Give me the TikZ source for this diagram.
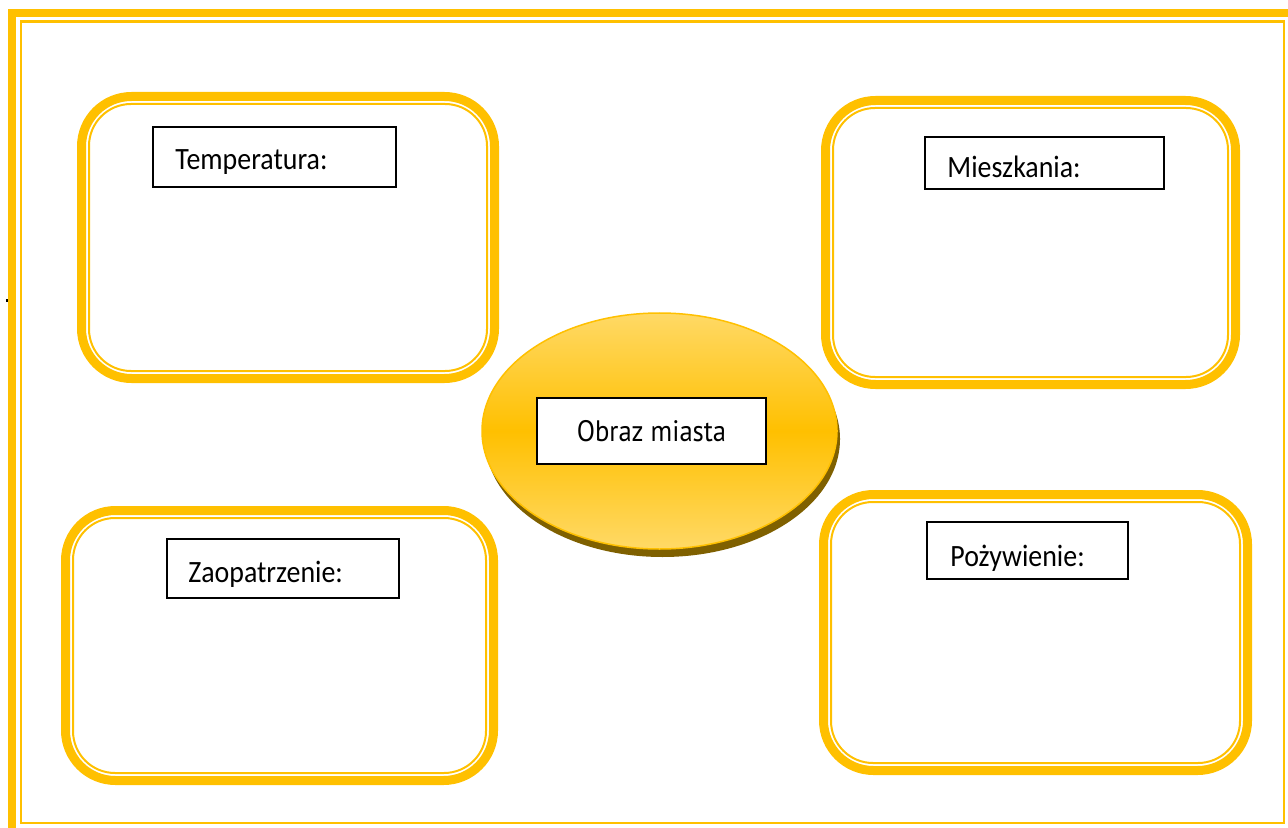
\documentclass[tikz,border=0pt]{standalone}
\usepackage{fontspec}
\setmainfont{Carlito}[FakeStretch=0.9]
\newfontfamily\centrefont{PT Sans}[FakeStretch=0.9]
\usepackage{tikz}
\usetikzlibrary{shapes.geometric, positioning}
\definecolor{gold}{HTML}{FFC000}
\definecolor{lightgold}{HTML}{FFD966}
\definecolor{shadowgold}{HTML}{7F6000}

\begin{document}
\begin{tikzpicture}[x=0.5pt, y=-0.5pt]
\tikzstyle{panel} = [rectangle, draw=gold, line width=4.5pt, rounded corners=25pt, inner sep=0pt, outer sep=0pt]
\tikzstyle{panelin} = [draw=gold, line width=1pt, rounded corners=21pt]
\tikzstyle{tag} = [rectangle, draw=black, line width=0.75pt, fill=white, inner sep=0pt]
\tikzstyle{tagtext} = [anchor=base west, inner sep=0pt, font=\fontsize{15.5}{18}\selectfont]
\tikzstyle{city} = [ellipse, minimum width=177.5pt, minimum height=118pt, inner sep=0pt]

\useasboundingbox (0,0) rectangle (1288,828);

% page frame
\draw[gold, line width=4pt] (12,13.5) rectangle (1300,840);
\draw[gold, line width=1.25pt] (21,21.5) rectangle (1284,823);
\fill (6,299) rectangle (8,302);

% the four panels
\node (temppanel) [panel, minimum width=206.5pt, minimum height=141pt] at (288,237.5) {};
\node (flatpanel) [panel, minimum width=205pt, minimum height=142pt] at (1030.5,242.5) {};
\node (supplypanel) [panel, minimum width=214pt, minimum height=135pt] at (279.5,645.5) {};
\node (foodpanel) [panel, minimum width=212pt, minimum height=138pt] at (1035.5,632.5) {};
\draw[panelin] ([xshift=3.75pt, yshift=-3.75pt]temppanel.north west) rectangle ([xshift=-3.75pt, yshift=3.75pt]temppanel.south east);
\draw[panelin] ([xshift=3.75pt, yshift=-3.75pt]flatpanel.north west) rectangle ([xshift=-3.75pt, yshift=3.75pt]flatpanel.south east);
\draw[panelin] ([xshift=3.75pt, yshift=-3.75pt]supplypanel.north west) rectangle ([xshift=-3.75pt, yshift=3.75pt]supplypanel.south east);
\draw[panelin] ([xshift=3.75pt, yshift=-3.75pt]foodpanel.north west) rectangle ([xshift=-3.75pt, yshift=3.75pt]foodpanel.south east);

% labels
\node (tempbox) [tag, minimum width=121.5pt, minimum height=30pt] at (274.5,157) {};
\node (temptext) [tagtext] at (175,170) {Temperatura:};
\node (flatbox) [tag, minimum width=119.5pt, minimum height=26pt] at (1044.5,163) {};
\node (flattext) [tagtext] at (947,178) {Mieszkania:};
\node (supplybox) [tag, minimum width=116pt, minimum height=29.5pt] at (283,568.5) {};
\node (supplytext) [tagtext] at (188,582) {Zaopatrzenie:};
\node (foodbox) [tag, minimum width=100.5pt, minimum height=28.5pt] at (1027.5,550.5) {};
\node (foodtext) [tagtext] at (950,566) {Pożywienie:};

% centre
\node (cityshadow) [city, fill=shadowgold] at (662.5,439) {};
\node (citybody) [city, draw=gold, line width=0.75pt, top color=lightgold, bottom color=lightgold, middle color=gold] at (659.5,431) {};
\node (citybox) [tag, minimum width=114.5pt, minimum height=33pt, font=\centrefont\fontsize{14.8}{17}\selectfont] at (651.5,431) {Obraz miasta};

\end{tikzpicture}
\end{document}
